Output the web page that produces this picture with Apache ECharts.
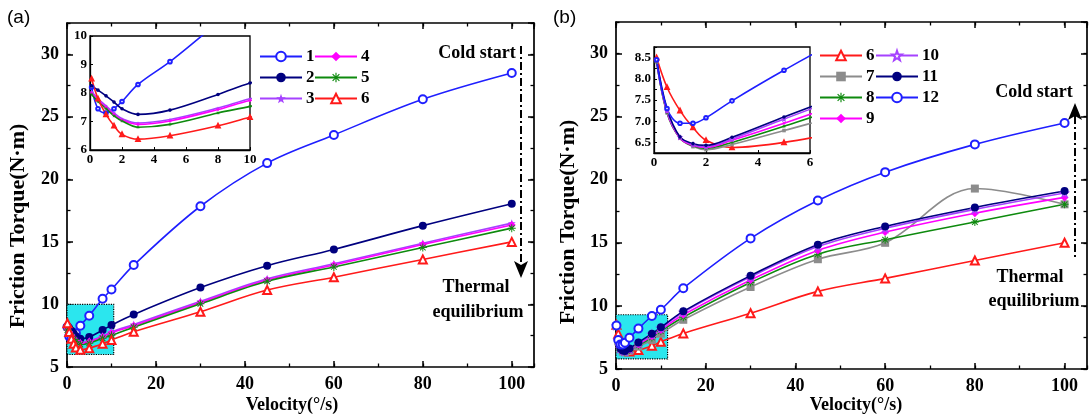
<!DOCTYPE html>
<html><head><meta charset="utf-8">
<script src="https://cdn.jsdelivr.net/npm/echarts@6/dist/echarts.min.js"></script>
<style>
html,body{margin:0;padding:0;background:#fff;}
#pa,#pb{position:absolute;top:0;width:546px;height:419px;}
#pa{left:0}#pb{left:546px}
</style></head>
<body><div id="pa"></div><div id="pb"></div>
<script>
// ---------------- DATA ----------------
const velocity = [0.1, 0.5, 1, 1.5, 2, 3, 5, 8, 10, 15, 30, 45, 60, 80, 100];
// panel (a)
const torque1 = [8.2, 7.45, 7.3, 7.45, 7.7, 8.3, 9.1, 10.45, 11.2, 13.15, 17.85, 21.3, 23.55, 26.4, 28.5];
const torque2 = [8.25, 8.1, 7.9, 7.68, 7.45, 7.25, 7.4, 7.95, 8.35, 9.2, 11.35, 13.1, 14.4, 16.3, 18.05];
const torque3 = [8.05, 7.8, 7.55, 7.3, 7.1, 6.95, 7.07, 7.47, 7.8, 8.4, 10.25, 12.05, 13.25, 14.9, 16.5];
const torque4 = [8.0, 7.75, 7.5, 7.25, 7.05, 6.9, 7.02, 7.42, 7.74, 8.3, 10.15, 11.95, 13.15, 14.8, 16.35];
const torque5 = [7.95, 7.7, 7.45, 7.2, 7.02, 6.8, 6.9, 7.3, 7.53, 8.18, 10.05, 11.85, 13.0, 14.55, 16.1];
const torque6 = [8.5, 7.8, 7.25, 6.85, 6.55, 6.38, 6.5, 6.85, 7.15, 7.82, 9.42, 11.15, 12.18, 13.6, 15.0];
// panel (b)
const torque7 = [8.4, 7.2, 6.6, 6.4, 6.33, 6.45, 6.78, 7.3, 7.8, 8.9, 11.5, 13.7, 15.0, 19.3, 18.05];
const torque8 = [8.4, 7.2, 6.6, 6.42, 6.36, 6.5, 6.88, 7.5, 8.0, 9.1, 11.85, 14.1, 15.25, 16.65, 18.05];
const torque9 = [8.42, 7.22, 6.6, 6.43, 6.38, 6.55, 6.95, 7.6, 8.1, 9.3, 12.05, 14.4, 15.85, 17.35, 18.6];
const torque10 = [8.45, 7.25, 6.62, 6.45, 6.4, 6.58, 7.05, 7.75, 8.25, 9.5, 12.3, 14.7, 16.15, 17.65, 18.95];
const torque11 = [8.45, 7.3, 6.63, 6.47, 6.43, 6.62, 7.1, 7.8, 8.3, 9.57, 12.4, 14.85, 16.3, 17.8, 19.1];
const torque12 = [8.45, 7.3, 6.95, 6.95, 7.08, 7.48, 8.2, 9.2, 9.7, 11.4, 15.35, 18.35, 20.6, 22.8, 24.5];
// names / labels
const namesA = ['1', '2', '3', '4', '5', '6'];
const namesB = ['6', '7', '8', '9', '10', '11', '12'];
const xTitle = 'Velocity(°/s)';
const yTitle = 'Friction Torque(N·m)';
const noteTop = 'Cold start';
const noteBottom = ['Thermal', 'equilibrium'];
// highlighted zoom region (data coords)
const boxA = [[0, 6], [10.5, 10]];
const boxB = [[0, 5.8], [11.5, 9.3]];

// ---------------- STYLES ----------------
const STAR = 'path://M0,-10L2.35,-3.24L9.51,-3.09L3.8,1.24L5.88,8.09L0,4L-5.88,8.09L-3.8,1.24L-9.51,-3.09L-2.35,-3.24Z';
const ASTER = 'path://M-1.2,-10L1.2,-10L1.2,10L-1.2,10Z M-10,-1.2L10,-1.2L10,1.2L-10,1.2Z M-7.9,-6.2L-6.2,-7.9L7.9,6.2L6.2,7.9Z M-7.9,6.2L6.2,-7.9L7.9,-6.2L-6.2,7.9Z';
const STY = {
  '1': {color: '#1f1fff', symbol: 'emptyCircle'},
  '2': {color: '#00007f', symbol: 'circle'},
  '3': {color: '#a642ff', symbol: STAR},
  '4': {color: '#ff00ff', symbol: 'diamond'},
  '5': {color: '#0e8a0e', symbol: ASTER},
  '6': {color: '#ff1a1a', symbol: 'emptyTriangle'},
  '7': {color: '#8c8c8c', symbol: 'rect'},
  '8': {color: '#0e8a0e', symbol: ASTER},
  '9': {color: '#ff00ff', symbol: 'diamond'},
  '10': {color: '#a642ff', symbol: STAR, hollow: true},
  '11': {color: '#00007f', symbol: 'circle'},
  '12': {color: '#1f1fff', symbol: 'emptyCircle'}
};
const SERIF = '"Liberation Serif","Times New Roman",serif';
const lbl = (size) => ({fontFamily: SERIF, fontWeight: 'bold', fontSize: size, color: '#000'});

function makeSeries(name, ys, xi, yi, size, extra) {
  const s = STY[name];
  const empty = typeof s.symbol === 'string' && s.symbol.indexOf('empty') === 0;
  const o = {
    name: name, type: 'line', xAxisIndex: xi, yAxisIndex: yi,
    data: velocity.map((v, i) => [v, ys[i]]),
    smooth: 0.35, symbol: s.symbol, symbolSize: size, showSymbol: true,
    color: s.color,
    lineStyle: {color: s.color, width: 1.6},
    itemStyle: s.hollow ? {color: '#fff', borderColor: s.color, borderWidth: 1.1}
                        : (empty ? {color: s.color, borderWidth: 1.1} : {color: s.color}),
    emphasis: {disabled: true}, animation: false, clip: true
  };
  return Object.assign(o, extra || {});
}

function mainAxes(grid, pos, min, max, major, minor) {
  const label = pos === 'bottom' || pos === 'left';
  const base = {type: 'value', gridIndex: grid, position: pos, min: min, max: max,
    splitLine: {show: false}, minorSplitLine: {show: false}, axisPointer: {show: false}};
  const maj = Object.assign({}, base, {interval: major,
    axisLine: {show: true, onZero: false, lineStyle: {color: '#000', width: 1.7}},
    axisTick: {show: true, inside: true, length: 6, lineStyle: {color: '#000', width: 1.5}},
    axisLabel: label ? Object.assign(lbl(18), {margin: 8, showMaxLabel: false}) : {show: false}});
  const mnr = Object.assign({}, base, {interval: minor,
    axisLine: {show: false, onZero: false},
    axisTick: {show: true, inside: true, length: 3.5, lineStyle: {color: '#000', width: 1.3}},
    axisLabel: {show: false}});
  return [maj, mnr];
}

function buildOption(cfg) {
  const g = cfg.main, ins = cfg.inset;
  const xAxis = [].concat(
    mainAxes(0, 'bottom', 0, 105, 20, 10),
    mainAxes(0, 'top', 0, 105, 20, 10),
    [{type: 'value', gridIndex: 1, position: 'bottom', min: ins.xMin, max: ins.xMax, interval: ins.xInt,
      splitLine: {show: false},
      axisLine: {show: true, onZero: false, lineStyle: {color: '#000', width: 1.3}},
      axisTick: {show: true, inside: true, length: 3, lineStyle: {color: '#000'}},
      axisLabel: Object.assign(lbl(13), {margin: 3})}]
  );
  const yAxis = [].concat(
    mainAxes(0, 'left', 5, 32.5, 5, 2.5),
    mainAxes(0, 'right', 5, 32.5, 5, 2.5),
    [{type: 'value', gridIndex: 1, position: 'left', min: ins.yMin, max: ins.yMax, interval: ins.yInt,
      splitLine: {show: false},
      axisLine: {show: true, onZero: false, lineStyle: {color: '#000', width: 1.3}},
      axisTick: {show: true, inside: true, length: 3, lineStyle: {color: '#000'}},
      axisLabel: Object.assign(lbl(13), {margin: 3, formatter: ins.yFmt})}]
  );
  const series = [];
  cfg.series.forEach((s, i) => {
    const extra = i === 0 ? {markArea: {silent: true, z: 1,
      itemStyle: {color: '#2be6ee', borderColor: '#000', borderWidth: 1.2, borderType: 'dotted'},
      data: [[{xAxis: cfg.box[0][0], yAxis: cfg.box[0][1]}, {xAxis: cfg.box[1][0], yAxis: cfg.box[1][1]}]]}} : null;
    series.push(makeSeries(s.name, s.ys, 0, 0, 8, extra));
  });
  cfg.series.forEach((s) => series.push(makeSeries(s.name, s.ys, 4, 4, 3.6)));
  const legend = cfg.legends.map(l => ({
    data: l.names, orient: 'vertical', left: l.left, top: l.top, padding: 0,
    itemWidth: 42, itemHeight: 12, itemGap: 4, selectedMode: false,
    textStyle: Object.assign(lbl(17), {padding: [0, 0, 0, -1]})
  }));
  return {
    animation: false, backgroundColor: '#fff',
    grid: [
      {left: g.left, top: g.top, width: g.width, height: g.height, outerBoundsMode: 'none', containLabel: false},
      {left: ins.left, top: ins.top, width: ins.width, height: ins.height, show: true,
       backgroundColor: '#fff', borderColor: '#000', borderWidth: 1.3, outerBoundsMode: 'none', containLabel: false}
    ],
    xAxis: xAxis, yAxis: yAxis, series: series, legend: legend,
    graphic: cfg.graphic
  };
}

function txt(x, y, text, font, rot) {
  return {type: 'text', x: x, y: y, rotation: rot || 0, silent: true, z: 100,
    style: {text: text, font: font, fill: '#000', textAlign: 'center', textVerticalAlign: 'middle',
            align: 'center', verticalAlign: 'middle'}};
}
const FB18 = 'bold 18px ' + SERIF;
const FY = 'bold 22px ' + SERIF;
const FP = '19px "Liberation Sans",Arial,sans-serif';

function insetLabel1(v) { return String(v); }
function insetLabelHalf(v) {
  return Math.abs(v * 2 - Math.round(v * 2)) < 1e-6 ? v.toFixed(1) : '';
}

// ---------------- PANEL A ----------------
const optA = buildOption({
  main: {left: 67, top: 23, width: 467, height: 344},
  inset: {left: 90, top: 36, width: 160, height: 114, xMin: 0, xMax: 10, xInt: 2, yMin: 6, yMax: 10, yInt: 1, yFmt: insetLabel1},
  series: [
    {name: namesA[0], ys: torque1}, {name: namesA[1], ys: torque2}, {name: namesA[2], ys: torque3},
    {name: namesA[3], ys: torque4}, {name: namesA[4], ys: torque5}, {name: namesA[5], ys: torque6}
  ],
  box: boxA,
  legends: [{names: namesA.slice(0, 3), left: 259, top: 48}, {names: namesA.slice(3, 6), left: 314, top: 48}],
  graphic: [
    {type: 'text', x: 7, y: 8, silent: true, style: {text: '(a)', font: FP, fill: '#000'}},
    txt(18, 226, yTitle, FY, Math.PI / 2),
    txt(292, 405, xTitle, FB18),
    txt(477, 53, noteTop, FB18),
    txt(476, 287, noteBottom[0], FB18),
    txt(478, 312, noteBottom[1], FB18),
    {type: 'line', silent: true, z: 100, shape: {x1: 521, y1: 46, x2: 521, y2: 266},
     style: {stroke: '#000', lineWidth: 2, lineDash: [8, 3, 2, 3]}},
    {type: 'polygon', silent: true, z: 100, shape: {points: [[514, 261], [521, 265], [528, 261], [521, 278]]},
     style: {fill: '#000'}}
  ]
});

// ---------------- PANEL B ----------------
const optB = buildOption({
  main: {left: 70, top: 22, width: 471, height: 347},
  inset: {left: 108, top: 47, width: 156, height: 106, xMin: 0, xMax: 6, xInt: 2, yMin: 6.25, yMax: 8.75, yInt: 0.25, yFmt: insetLabelHalf},
  series: [
    {name: namesB[0], ys: torque6}, {name: namesB[1], ys: torque7}, {name: namesB[2], ys: torque8},
    {name: namesB[3], ys: torque9}, {name: namesB[4], ys: torque10}, {name: namesB[5], ys: torque11},
    {name: namesB[6], ys: torque12}
  ],
  box: boxB,
  legends: [{names: namesB.slice(0, 4), left: 273, top: 47}, {names: namesB.slice(4, 7), left: 329, top: 47}],
  graphic: [
    {type: 'text', x: 7, y: 8, silent: true, style: {text: '(b)', font: FP, fill: '#000'}},
    txt(22, 222, yTitle, FY, Math.PI / 2),
    txt(310, 405, xTitle, FB18),
    txt(488, 92, noteTop, FB18),
    txt(484, 277, noteBottom[0], FB18),
    txt(488, 301, noteBottom[1], FB18),
    {type: 'line', silent: true, z: 100, shape: {x1: 529, y1: 116, x2: 529, y2: 259},
     style: {stroke: '#000', lineWidth: 2, lineDash: [8, 3, 2, 3]}},
    {type: 'polygon', silent: true, z: 100, shape: {points: [[522, 120], [529, 116], [536, 120], [529, 103]]},
     style: {fill: '#000'}}
  ]
});

echarts.init(document.getElementById('pa'), null, {renderer: 'canvas'}).setOption(optA);
echarts.init(document.getElementById('pb'), null, {renderer: 'canvas'}).setOption(optB);
</script>
</body></html>
